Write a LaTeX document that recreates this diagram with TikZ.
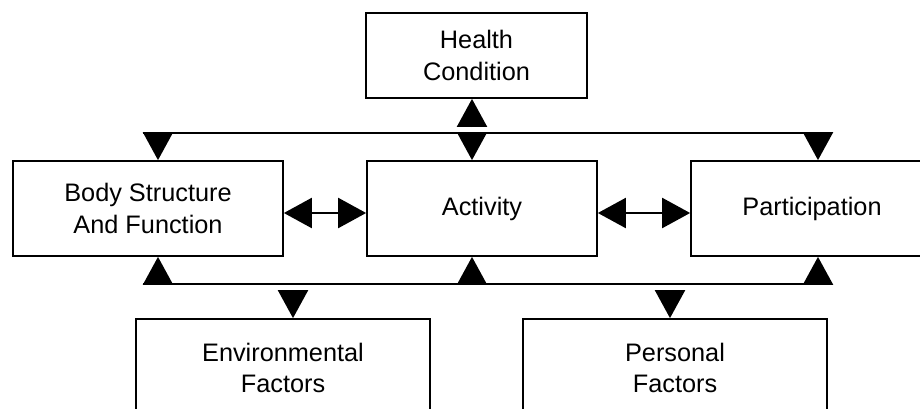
\documentclass[tikz,border=0pt]{standalone}
\usepackage{fontspec}
\setmainfont{Liberation Sans}
\usetikzlibrary{arrows.meta}

\tikzset{
	box/.style={draw,line width=1pt,align=center,inner sep=0pt,
		font=\fontsize{14.4}{18}\selectfont},
	oneway/.style={line width=1.2pt,-{Triangle[length=0.56cm,width=0.6cm]}},
	twoway/.style={line width=1.2pt,
		{Triangle[length=0.56cm,width=0.6cm]}-{Triangle[length=0.56cm,width=0.6cm]}},
	bar/.style={line width=1.4pt}
}

\begin{document}
\begin{tikzpicture}[x=0.02cm,y=-0.02cm]
	\useasboundingbox (0,0) rectangle (920,409);
	% boxes
	\node[box,minimum width=4.42cm,minimum height=1.7cm] (health)
		at (476.5,55.5) {Health\\Condition};
	\node[box,minimum width=5.4cm,minimum height=1.9cm] (body)
		at (148,208.5) {Body Structure\\And Function};
	\node[box,minimum width=4.6cm,minimum height=1.9cm] (activity)
		at (482,208.5) {Activity};
	\node[box,minimum width=4.84cm,minimum height=1.9cm] (partic)
		at (812,208.5) {Participation};
	\node[box,minimum width=5.88cm,minimum height=1.96cm] (environ)
		at (283,368) {Environmental\\Factors};
	\node[box,minimum width=6.08cm,minimum height=1.96cm] (personal)
		at (675,368) {Personal\\Factors};
	% points on the two bars
	\coordinate (tl) at (143,133);
	\coordinate (tr) at (832,133);
	\coordinate (t1) at (158,133);
	\coordinate (t2) at (472,133);
	\coordinate (t3) at (818,133);
	\coordinate (bl) at (143,284);
	\coordinate (br) at (832,284);
	\coordinate (b1) at (158,284);
	\coordinate (b2) at (472,284);
	\coordinate (b3) at (818,284);
	\coordinate (b4) at (293,284);
	\coordinate (b5) at (670,284);
	\draw[bar] (tl) -- (tr);
	\draw[bar] (bl) -- (br);
	% top bar
	\draw[oneway,shorten <=0.12cm] (t2) -- (t2 |- health.south);
	\draw[oneway] (t1) -- (t1 |- body.north);
	\draw[oneway] (t2) -- (t2 |- activity.north);
	\draw[oneway] (t3) -- (t3 |- partic.north);
	% bottom bar
	\draw[oneway] (b1) -- (b1 |- body.south);
	\draw[oneway] (b2) -- (b2 |- activity.south);
	\draw[oneway] (b3) -- (b3 |- partic.south);
	\draw[oneway,shorten <=0.12cm] (b4) -- (b4 |- environ.north);
	\draw[oneway,shorten <=0.12cm] (b5) -- (b5 |- personal.north);
	% middle row
	\draw[twoway] ([yshift=-0.09cm]body.east) -- ([yshift=-0.09cm]activity.west);
	\draw[twoway] ([yshift=-0.09cm]activity.east) -- ([yshift=-0.09cm]partic.west);
\end{tikzpicture}
\end{document}
